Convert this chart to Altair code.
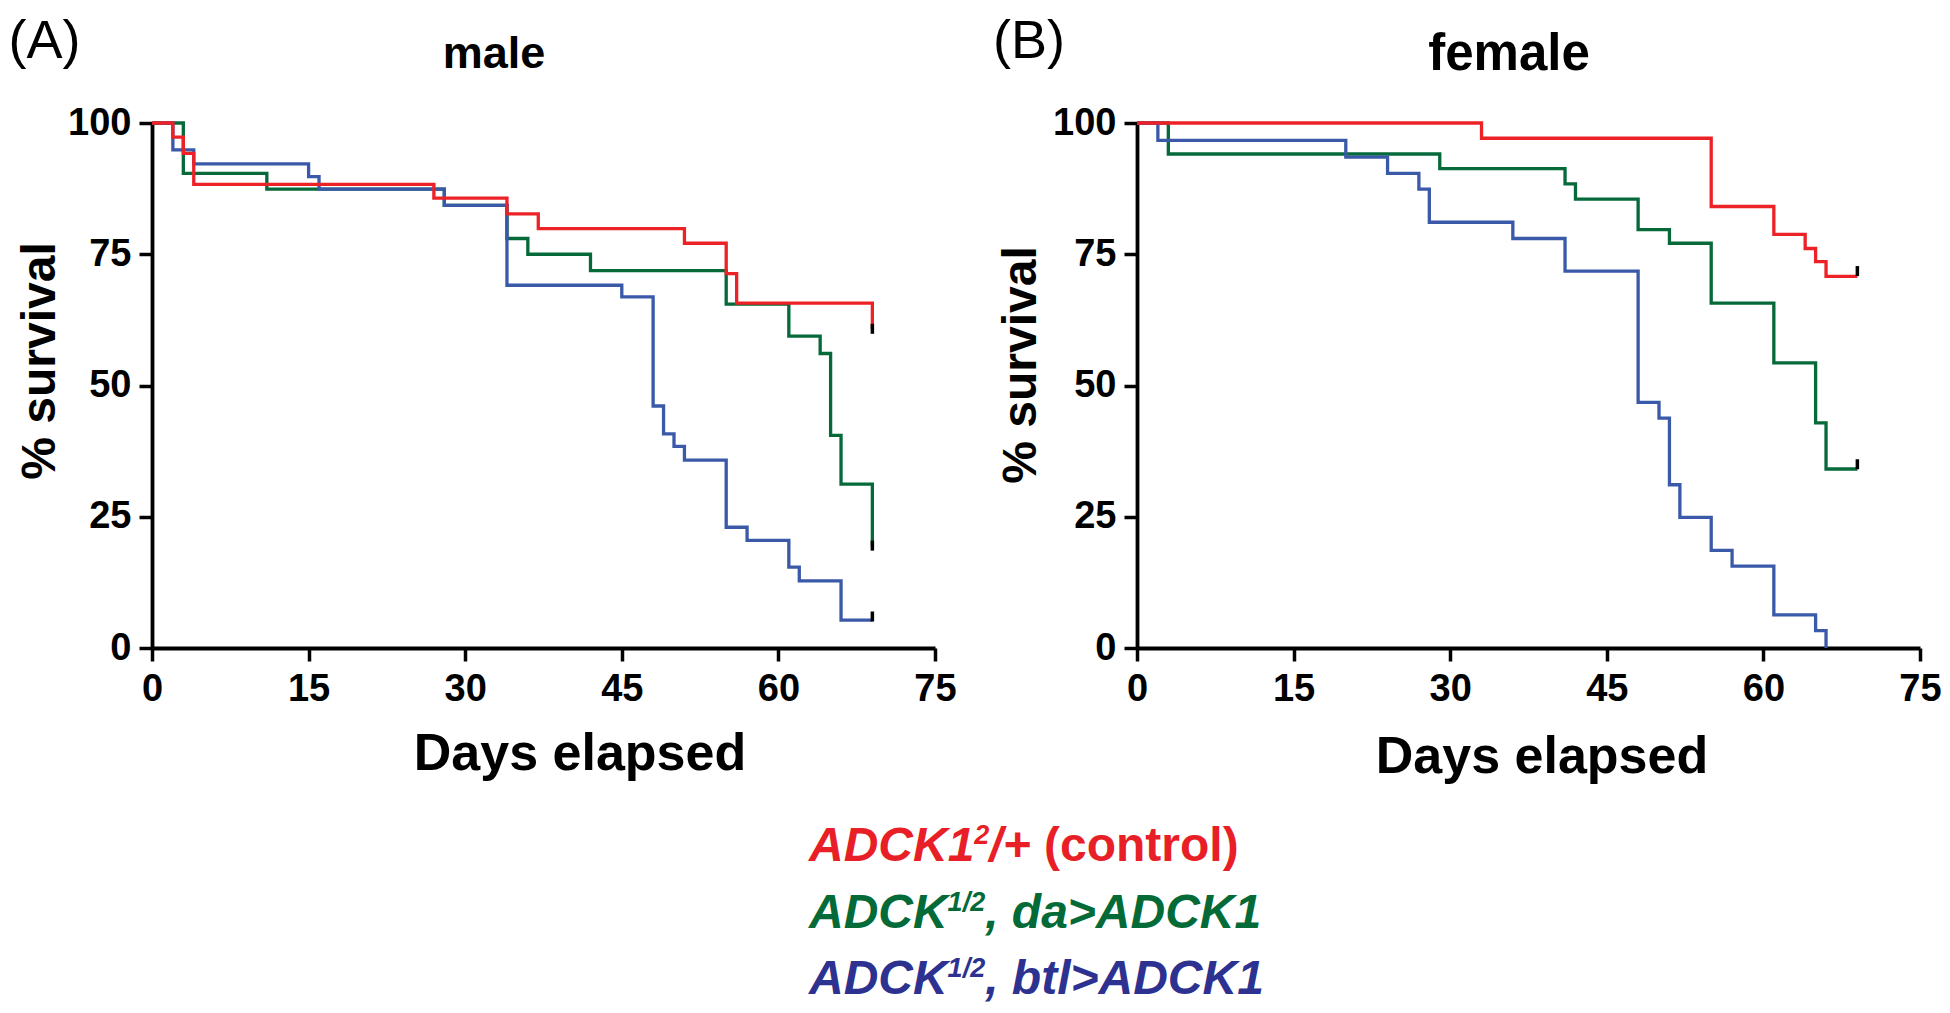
import altair as alt
import pandas as pd

FONT = "Liberation Sans"
RED, GREEN, BLUE = "#EC2227", "#05693A", "#3B59A9"
LEG_RED, LEG_GREEN, LEG_BLUE = "#E81F26", "#036A38", "#2D3290"

# ---------------- data ----------------
x_ticks = [0, 15, 30, 45, 60, 75]
y_ticks = [0, 25, 50, 75, 100]

# male
m_ctrl_day = [0, 2, 3, 4, 27, 34, 37, 51, 55, 56, 69]
m_ctrl_surv = [100, 97.3, 94.2, 88.3, 85.7, 82.7, 79.9, 77.1, 71.3, 65.7, 60.8]
m_da_day = [0, 3, 11, 28, 34, 36, 42, 55, 61, 64, 65, 66, 69]
m_da_surv = [100, 90.4, 87.4, 84.3, 78.0, 75.0, 71.9, 65.5, 59.4, 56.1, 40.5, 31.2, 19.5]
m_btl_day = [0, 2, 4, 15, 16, 28, 34, 45, 48, 49, 50, 51, 55, 57, 61, 62, 66, 69]
m_btl_surv = [100, 94.9, 92.2, 89.8, 87.4, 84.3, 69.1, 66.9, 46.1, 40.8, 38.4, 35.8,
              23.0, 20.5, 15.4, 12.8, 5.3, 5.3]
m_cens_day = [69, 69, 69]
m_cens_surv = [60.8, 19.5, 6.0]

# female
f_ctrl_day = [0, 33, 55, 61, 64, 65, 66, 69]
f_ctrl_surv = [100, 97.1, 84.1, 78.8, 76.1, 73.6, 70.8, 70.8]
f_da_day = [0, 3, 29, 41, 42, 48, 51, 55, 61, 65, 66, 69]
f_da_surv = [100, 94.1, 91.3, 88.4, 85.5, 79.7, 77.1, 65.7, 54.3, 42.9, 34.1, 34.1]
f_btl_day = [0, 2, 20, 24, 27, 28, 36, 41, 48, 50, 51, 52, 55, 57, 61, 65, 66]
f_btl_surv = [100, 96.7, 93.5, 90.4, 87.4, 81.1, 78.0, 71.8, 46.8, 43.8, 31.1, 24.9,
              18.6, 15.6, 6.3, 3.3, 0]
f_cens_day = [69, 69]
f_cens_surv = [71.8, 35.0]

PW, PH = 783, 525

# ---------------- helpers ----------------
def axis(values, pad):
    return alt.Axis(values=values, title=None, grid=False, labelFont=FONT,
                    labelFontSize=38, labelFontWeight="bold", labelColor="black",
                    domainColor="black", domainWidth=3.8, tickColor="black",
                    tickWidth=3.5, tickSize=13, labelPadding=pad,
                    labelFlush=False, labelOverlap=False)

def x_enc():
    return alt.X("day:Q", scale=alt.Scale(domain=[0, 75], nice=False, zero=False),
                 axis=axis(x_ticks, 9))

def y_enc():
    return alt.Y("surv:Q", scale=alt.Scale(domain=[0, 100], nice=False),
                 axis=axis(y_ticks, 8))

def curve(days, surv, color):
    df = pd.DataFrame({"day": days, "surv": surv})
    return alt.Chart(df).mark_line(interpolate="step-after", strokeWidth=3.3,
                                   color=color, strokeCap="butt").encode(x=x_enc(), y=y_enc())

def censor(days, surv):
    df = pd.DataFrame({"day": days, "surv": surv})
    return alt.Chart(df).mark_tick(orient="vertical", size=10, thickness=3.5,
                                   color="black", opacity=1).encode(x=x_enc(), y=y_enc())

def txt(s, x, y, size, color="black", weight="bold", style="normal",
        align="left", angle=0):
    return alt.Chart(pd.DataFrame({"t": [s]})).mark_text(
        font=FONT, fontSize=size, fontWeight=weight, fontStyle=style, color=color,
        align=align, baseline="alphabetic", angle=angle
    ).encode(text="t:N", x=alt.value(x), y=alt.value(y))

# Arial/Liberation Sans Bold advance widths (per 1000 em)
W = {"A": 722, "D": 722, "C": 722, "K": 722, "1": 556, "2": 556, "/": 278, "+": 584,
     " ": 278, "(": 333, ")": 333, "c": 556, "o": 611, "n": 611, "t": 333, "r": 389,
     "l": 278, ",": 278, "d": 611, "a": 556, ">": 584, "b": 611}

def rich_line(runs, x0, y0, color):
    layers = []
    x = x0
    for s, size, style, rise in runs:
        lead = len(s) - len(s.lstrip(" "))
        x += lead * W[" "] / 1000 * size
        body = s.lstrip(" ")
        layers.append(txt(body, x, y0 - rise, size, color=color, style=style))
        x += sum(W[c] for c in body) / 1000 * size
    return layers

BIG, SUP, RISE = 48, 27, 17
legend_lines = [
    ([("ADCK1", BIG, "italic", 0), ("2", SUP, "italic", RISE), ("/+", BIG, "italic", 0),
      (" (control)", BIG, "normal", 0)], LEG_RED),
    ([("ADCK", BIG, "italic", 0), ("1/2", SUP, "italic", RISE),
      (", da>ADCK1", BIG, "italic", 0)], LEG_GREEN),
    ([("ADCK", BIG, "italic", 0), ("1/2", SUP, "italic", RISE),
      (", btl>ADCK1", BIG, "italic", 0)], LEG_BLUE),
]
legend_x = 657
legend_y = [738, 805, 871]

legend_layers = []
for (runs, col), yy in zip(legend_lines, legend_y):
    legend_layers += rich_line(runs, legend_x, yy, col)

# ---------------- panels ----------------
male = alt.layer(
    curve(m_da_day, m_da_surv, GREEN),
    curve(m_btl_day, m_btl_surv, BLUE),
    curve(m_ctrl_day, m_ctrl_surv, RED),
    censor(m_cens_day, m_cens_surv),
    txt("(A)", -143.5, -65, 54, weight="normal"),
    txt("male", 342, -55, 45, align="center"),
    txt("% survival", -97, 238, 48, align="center", angle=270),
    txt("Days elapsed", 428, 647, 52, align="center"),
    *legend_layers,
).properties(width=PW, height=PH)

female = alt.layer(
    curve(f_da_day, f_da_surv, GREEN),
    curve(f_btl_day, f_btl_surv, BLUE),
    curve(f_ctrl_day, f_ctrl_surv, RED),
    censor(f_cens_day, f_cens_surv),
    txt("(B)", -144, -65, 54, weight="normal"),
    txt("female", 372, -53, 51, align="center"),
    txt("% survival", -101, 242, 48, align="center", angle=270),
    txt("Days elapsed", 405, 650, 52, align="center"),
).properties(width=PW, height=PH)

chart = alt.hconcat(male, female, spacing=202, bounds="flush").properties(
    padding={"top": 7, "left": 0, "right": 0, "bottom": 0}, background="white"
).configure_view(stroke=None)

chart.save("out.html", embed_options={"renderer": "svg", "actions": False})
